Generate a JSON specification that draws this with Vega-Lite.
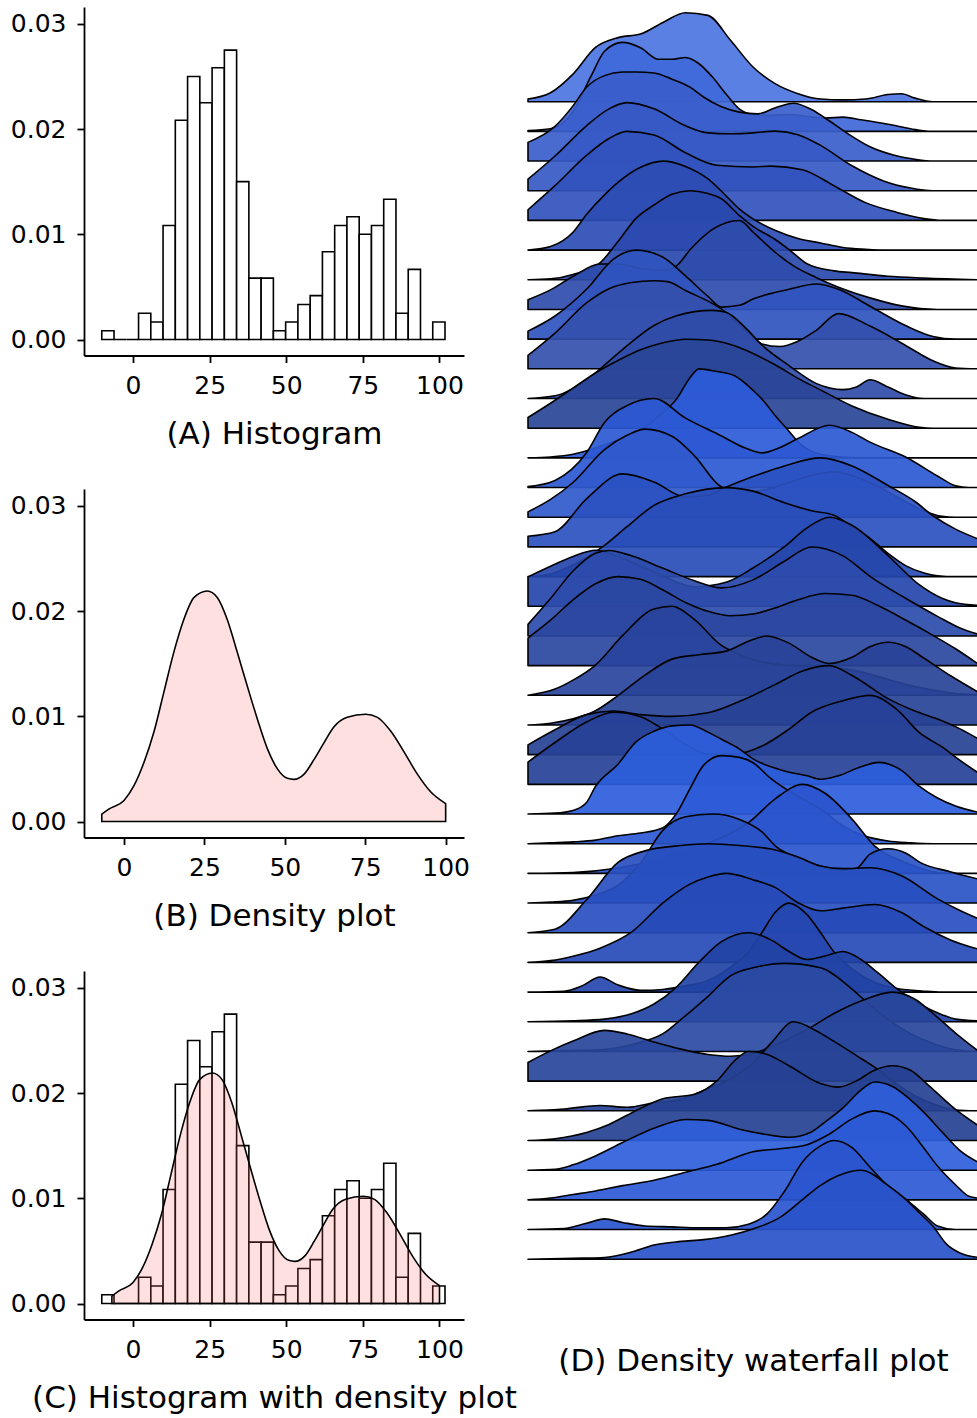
{
"$schema":"https://vega.github.io/schema/vega-lite/v6.json",
"background":"white",
"padding":{"left":10,"top":7,"right":0,"bottom":0},
"config":{"view":{"stroke":null},
 "axis":{"grid":false,"domainColor":"black","tickColor":"black","labelColor":"black","titleColor":"black","labelFont":"DejaVu Sans","titleFont":"DejaVu Sans","labelFontSize":25,"titleFontSize":31,"titleFontWeight":"normal","tickSize":7,"tickWidth":1.8,"domainWidth":1.8,"labelPadding":11,"labelFlush":false,"labelOverlap":false}},
"datasets":{
"hist":[
{"x0":-10.2,"x1":-6.2,"density":0.000833},{"x0":-6.2,"x1":-2.2,"density":0},{"x0":-2.2,"x1":1.8,"density":0},{"x0":1.8,"x1":5.8,"density":0.0025},{"x0":5.8,"x1":9.8,"density":0.001667},{"x0":9.8,"x1":13.8,"density":0.010833},{"x0":13.8,"x1":17.8,"density":0.020833},{"x0":17.8,"x1":21.8,"density":0.025},{"x0":21.8,"x1":25.8,"density":0.0225},{"x0":25.8,"x1":29.8,"density":0.025833},{"x0":29.8,"x1":33.8,"density":0.0275},{"x0":33.8,"x1":37.8,"density":0.015},{"x0":37.8,"x1":41.8,"density":0.005833},{"x0":41.8,"x1":45.8,"density":0.005833},{"x0":45.8,"x1":49.8,"density":0.000833},{"x0":49.8,"x1":53.8,"density":0.001667},{"x0":53.8,"x1":57.8,"density":0.003333},{"x0":57.8,"x1":61.8,"density":0.004167},{"x0":61.8,"x1":65.8,"density":0.008333},{"x0":65.8,"x1":69.8,"density":0.010833},{"x0":69.8,"x1":73.8,"density":0.011667},{"x0":73.8,"x1":77.8,"density":0.01},{"x0":77.8,"x1":81.8,"density":0.010833},{"x0":81.8,"x1":85.8,"density":0.013333},{"x0":85.8,"x1":89.8,"density":0.0025},{"x0":89.8,"x1":93.8,"density":0.006667},{"x0":93.8,"x1":97.8,"density":0},{"x0":97.8,"x1":101.8,"density":0.001667}],
"dens":[
{"x":-6.9,"density":0.0007},{"x":-4.6,"density":0.0012},{"x":0,"density":0.002},{"x":3.1,"density":0.0034},{"x":6.2,"density":0.0056},{"x":9.3,"density":0.0085},{"x":12.4,"density":0.0123},{"x":15.5,"density":0.0161},{"x":18.6,"density":0.0192},{"x":21.8,"density":0.0213},{"x":25.9,"density":0.0219},{"x":29,"density":0.0213},{"x":32.1,"density":0.0192},{"x":35.2,"density":0.0161},{"x":38.3,"density":0.0129},{"x":41.5,"density":0.0097},{"x":44.6,"density":0.0069},{"x":47.7,"density":0.005},{"x":50.8,"density":0.0041},{"x":52.8,"density":0.004},{"x":56,"density":0.0045},{"x":59.1,"density":0.0059},{"x":62.2,"density":0.0075},{"x":65.3,"density":0.009},{"x":69.4,"density":0.0099},{"x":75.1,"density":0.0102},{"x":78.8,"density":0.0099},{"x":82.9,"density":0.0086},{"x":87.1,"density":0.0066},{"x":91.2,"density":0.0045},{"x":95.4,"density":0.0028},{"x":100,"density":0.0017}],
"ridges":[
{"r":1,"u":0,"d":0.03},{"r":1,"u":5,"d":0.1},{"r":1,"u":10,"d":0.31},{"r":1,"u":15,"d":0.61},{"r":1,"u":20,"d":0.72},{"r":1,"u":25,"d":0.76},{"r":1,"u":30,"d":0.89},{"r":1,"u":35,"d":1},{"r":1,"u":40,"d":0.97},{"r":1,"u":45,"d":0.69},{"r":1,"u":50,"d":0.39},{"r":1,"u":55,"d":0.2},{"r":1,"u":60,"d":0.09},{"r":1,"u":65,"d":0.03},{"r":1,"u":70,"d":0.02},{"r":1,"u":75,"d":0.03},{"r":1,"u":80,"d":0.08},{"r":1,"u":83,"d":0.09},{"r":1,"u":86,"d":0.04},{"r":1,"u":90,"d":0},{"r":1,"u":100,"d":0},
{"r":2,"u":0,"d":0.01},{"r":2,"u":5,"d":0.03},{"r":2,"u":10,"d":0.22},{"r":2,"u":14,"d":0.62},{"r":2,"u":17,"d":0.9},{"r":2,"u":21,"d":1},{"r":2,"u":25,"d":0.94},{"r":2,"u":29,"d":0.81},{"r":2,"u":32,"d":0.81},{"r":2,"u":35,"d":0.83},{"r":2,"u":38,"d":0.76},{"r":2,"u":41,"d":0.61},{"r":2,"u":44,"d":0.42},{"r":2,"u":47,"d":0.25},{"r":2,"u":50,"d":0.19},{"r":2,"u":54,"d":0.18},{"r":2,"u":58,"d":0.19},{"r":2,"u":62,"d":0.17},{"r":2,"u":66,"d":0.15},{"r":2,"u":70,"d":0.16},{"r":2,"u":74,"d":0.13},{"r":2,"u":80,"d":0.08},{"r":2,"u":85,"d":0.03},{"r":2,"u":89,"d":0},{"r":2,"u":100,"d":0},
{"r":3,"u":0,"d":0.21},{"r":3,"u":6,"d":0.39},{"r":3,"u":10,"d":0.62},{"r":3,"u":13,"d":0.83},{"r":3,"u":17,"d":0.96},{"r":3,"u":21,"d":1},{"r":3,"u":24,"d":1},{"r":3,"u":28,"d":0.99},{"r":3,"u":32,"d":0.92},{"r":3,"u":36,"d":0.83},{"r":3,"u":39,"d":0.72},{"r":3,"u":43,"d":0.61},{"r":3,"u":47,"d":0.55},{"r":3,"u":51,"d":0.53},{"r":3,"u":55,"d":0.6},{"r":3,"u":59,"d":0.65},{"r":3,"u":63,"d":0.58},{"r":3,"u":67,"d":0.45},{"r":3,"u":71,"d":0.31},{"r":3,"u":76,"d":0.16},{"r":3,"u":81,"d":0.07},{"r":3,"u":86,"d":0.02},{"r":3,"u":90,"d":0},{"r":3,"u":100,"d":0},
{"r":4,"u":0,"d":0.13},{"r":4,"u":6,"d":0.39},{"r":4,"u":13,"d":0.73},{"r":4,"u":18,"d":0.92},{"r":4,"u":22,"d":0.99},{"r":4,"u":28,"d":0.92},{"r":4,"u":35,"d":0.73},{"r":4,"u":40,"d":0.65},{"r":4,"u":45,"d":0.64},{"r":4,"u":50,"d":0.65},{"r":4,"u":55,"d":0.67},{"r":4,"u":60,"d":0.63},{"r":4,"u":65,"d":0.51},{"r":4,"u":72,"d":0.28},{"r":4,"u":79,"d":0.11},{"r":4,"u":85,"d":0.03},{"r":4,"u":90,"d":0},{"r":4,"u":100,"d":0},
{"r":5,"u":0,"d":0.12},{"r":5,"u":6,"d":0.39},{"r":5,"u":13,"d":0.73},{"r":5,"u":18,"d":0.92},{"r":5,"u":22,"d":1},{"r":5,"u":28,"d":0.96},{"r":5,"u":35,"d":0.76},{"r":5,"u":42,"d":0.62},{"r":5,"u":50,"d":0.6},{"r":5,"u":54,"d":0.61},{"r":5,"u":61,"d":0.57},{"r":5,"u":68,"d":0.39},{"r":5,"u":75,"d":0.2},{"r":5,"u":82,"d":0.09},{"r":5,"u":88,"d":0.02},{"r":5,"u":92,"d":0},{"r":5,"u":100,"d":0},
{"r":6,"u":0,"d":0},{"r":6,"u":5,"d":0.04},{"r":6,"u":10,"d":0.2},{"r":6,"u":13,"d":0.4},{"r":6,"u":17,"d":0.62},{"r":6,"u":20,"d":0.76},{"r":6,"u":25,"d":0.93},{"r":6,"u":30,"d":1},{"r":6,"u":35,"d":0.94},{"r":6,"u":40,"d":0.8},{"r":6,"u":44,"d":0.61},{"r":6,"u":47,"d":0.46},{"r":6,"u":50,"d":0.35},{"r":6,"u":55,"d":0.22},{"r":6,"u":60,"d":0.13},{"r":6,"u":65,"d":0.08},{"r":6,"u":70,"d":0.03},{"r":6,"u":75,"d":0.01},{"r":6,"u":80,"d":0},{"r":6,"u":100,"d":0},
{"r":7,"u":0,"d":0},{"r":7,"u":5,"d":0.01},{"r":7,"u":10,"d":0.06},{"r":7,"u":16,"d":0.19},{"r":7,"u":20,"d":0.43},{"r":7,"u":24,"d":0.69},{"r":7,"u":28,"d":0.84},{"r":7,"u":32,"d":0.96},{"r":7,"u":36,"d":1},{"r":7,"u":40,"d":0.97},{"r":7,"u":43,"d":0.91},{"r":7,"u":47,"d":0.72},{"r":7,"u":50,"d":0.6},{"r":7,"u":55,"d":0.45},{"r":7,"u":58,"d":0.34},{"r":7,"u":62,"d":0.18},{"r":7,"u":68,"d":0.1},{"r":7,"u":72,"d":0.08},{"r":7,"u":80,"d":0.04},{"r":7,"u":88,"d":0.02},{"r":7,"u":100,"d":0},
{"r":8,"u":0,"d":0.11},{"r":8,"u":5,"d":0.22},{"r":8,"u":10,"d":0.37},{"r":8,"u":16,"d":0.51},{"r":8,"u":20,"d":0.51},{"r":8,"u":25,"d":0.46},{"r":8,"u":30,"d":0.44},{"r":8,"u":33,"d":0.49},{"r":8,"u":36,"d":0.67},{"r":8,"u":41,"d":0.9},{"r":8,"u":47,"d":1},{"r":8,"u":50,"d":0.87},{"r":8,"u":55,"d":0.64},{"r":8,"u":59,"d":0.49},{"r":8,"u":64,"d":0.36},{"r":8,"u":69,"d":0.25},{"r":8,"u":76,"d":0.13},{"r":8,"u":83,"d":0.04},{"r":8,"u":91,"d":0},{"r":8,"u":100,"d":0},
{"r":9,"u":0,"d":0.09},{"r":9,"u":6,"d":0.26},{"r":9,"u":13,"d":0.56},{"r":9,"u":19,"d":0.9},{"r":9,"u":24,"d":1},{"r":9,"u":30,"d":0.92},{"r":9,"u":35,"d":0.71},{"r":9,"u":40,"d":0.48},{"r":9,"u":43,"d":0.36},{"r":9,"u":47,"d":0.38},{"r":9,"u":50,"d":0.45},{"r":9,"u":58,"d":0.56},{"r":9,"u":64,"d":0.62},{"r":9,"u":69,"d":0.56},{"r":9,"u":76,"d":0.37},{"r":9,"u":84,"d":0.15},{"r":9,"u":90,"d":0.03},{"r":9,"u":95,"d":0},{"r":9,"u":100,"d":0},
{"r":10,"u":0,"d":0.15},{"r":10,"u":6,"d":0.4},{"r":10,"u":13,"d":0.74},{"r":10,"u":18,"d":0.9},{"r":10,"u":23,"d":0.97},{"r":10,"u":28,"d":0.99},{"r":10,"u":31,"d":0.98},{"r":10,"u":35,"d":0.88},{"r":10,"u":43,"d":0.67},{"r":10,"u":48,"d":0.45},{"r":10,"u":52,"d":0.28},{"r":10,"u":56,"d":0.25},{"r":10,"u":60,"d":0.31},{"r":10,"u":64,"d":0.43},{"r":10,"u":69,"d":0.62},{"r":10,"u":76,"d":0.48},{"r":10,"u":84,"d":0.26},{"r":10,"u":90,"d":0.09},{"r":10,"u":95,"d":0.01},{"r":10,"u":100,"d":0},
{"r":11,"u":0,"d":0},{"r":11,"u":6,"d":0.03},{"r":11,"u":13,"d":0.21},{"r":11,"u":21,"d":0.55},{"r":11,"u":28,"d":0.82},{"r":11,"u":33,"d":0.93},{"r":11,"u":41,"d":0.99},{"r":11,"u":44,"d":0.97},{"r":11,"u":48,"d":0.81},{"r":11,"u":52,"d":0.6},{"r":11,"u":58,"d":0.37},{"r":11,"u":64,"d":0.17},{"r":11,"u":70,"d":0.1},{"r":11,"u":73,"d":0.13},{"r":11,"u":76,"d":0.21},{"r":11,"u":80,"d":0.13},{"r":11,"u":84,"d":0.04},{"r":11,"u":88,"d":0},{"r":11,"u":100,"d":0},
{"r":12,"u":0,"d":0.12},{"r":12,"u":5,"d":0.28},{"r":12,"u":10,"d":0.45},{"r":12,"u":15,"d":0.62},{"r":12,"u":20,"d":0.76},{"r":12,"u":25,"d":0.88},{"r":12,"u":30,"d":0.96},{"r":12,"u":35,"d":1},{"r":12,"u":40,"d":0.99},{"r":12,"u":45,"d":0.94},{"r":12,"u":50,"d":0.84},{"r":12,"u":55,"d":0.71},{"r":12,"u":60,"d":0.56},{"r":12,"u":65,"d":0.43},{"r":12,"u":72,"d":0.25},{"r":12,"u":80,"d":0.1},{"r":12,"u":87,"d":0.01},{"r":12,"u":90,"d":0},{"r":12,"u":100,"d":0},
{"r":13,"u":0,"d":0},{"r":13,"u":5,"d":0.01},{"r":13,"u":10,"d":0.04},{"r":13,"u":15,"d":0.11},{"r":13,"u":20,"d":0.2},{"r":13,"u":25,"d":0.31},{"r":13,"u":30,"d":0.51},{"r":13,"u":33,"d":0.66},{"r":13,"u":36,"d":0.9},{"r":13,"u":38,"d":1},{"r":13,"u":42,"d":0.97},{"r":13,"u":46,"d":0.92},{"r":13,"u":50,"d":0.76},{"r":13,"u":52,"d":0.66},{"r":13,"u":55,"d":0.47},{"r":13,"u":58,"d":0.3},{"r":13,"u":60,"d":0.18},{"r":13,"u":65,"d":0.04},{"r":13,"u":70,"d":0.01},{"r":13,"u":75,"d":0},{"r":13,"u":100,"d":0},
{"r":14,"u":0,"d":0.01},{"r":14,"u":6,"d":0.08},{"r":14,"u":13,"d":0.39},{"r":14,"u":17,"d":0.73},{"r":14,"u":22,"d":0.92},{"r":14,"u":28,"d":1},{"r":14,"u":35,"d":0.78},{"r":14,"u":43,"d":0.58},{"r":14,"u":48,"d":0.45},{"r":14,"u":52,"d":0.39},{"r":14,"u":56,"d":0.45},{"r":14,"u":60,"d":0.55},{"r":14,"u":67,"d":0.7},{"r":14,"u":72,"d":0.62},{"r":14,"u":76,"d":0.51},{"r":14,"u":84,"d":0.34},{"r":14,"u":91,"d":0.13},{"r":14,"u":95,"d":0.02},{"r":14,"u":98,"d":0},{"r":14,"u":100,"d":0},
{"r":15,"u":0,"d":0.06},{"r":15,"u":5,"d":0.2},{"r":15,"u":10,"d":0.39},{"r":15,"u":17,"d":0.76},{"r":15,"u":22,"d":0.92},{"r":15,"u":26,"d":0.99},{"r":15,"u":32,"d":0.91},{"r":15,"u":37,"d":0.69},{"r":15,"u":43,"d":0.34},{"r":15,"u":48,"d":0.28},{"r":15,"u":53,"d":0.31},{"r":15,"u":58,"d":0.39},{"r":15,"u":63,"d":0.47},{"r":15,"u":68,"d":0.51},{"r":15,"u":73,"d":0.45},{"r":15,"u":78,"d":0.34},{"r":15,"u":83,"d":0.2},{"r":15,"u":88,"d":0.07},{"r":15,"u":92,"d":0.01},{"r":15,"u":95,"d":0},{"r":15,"u":100,"d":0},
{"r":16,"u":0,"d":0.12},{"r":16,"u":6,"d":0.17},{"r":16,"u":13,"d":0.54},{"r":16,"u":21,"d":0.82},{"r":16,"u":28,"d":0.73},{"r":16,"u":35,"d":0.56},{"r":16,"u":40,"d":0.58},{"r":16,"u":44,"d":0.67},{"r":16,"u":50,"d":0.79},{"r":16,"u":57,"d":0.91},{"r":16,"u":65,"d":1},{"r":16,"u":72,"d":0.91},{"r":16,"u":80,"d":0.69},{"r":16,"u":86,"d":0.51},{"r":16,"u":90,"d":0.35},{"r":16,"u":95,"d":0.2},{"r":16,"u":100,"d":0.09},
{"r":17,"u":0,"d":0},{"r":17,"u":5,"d":0.03},{"r":17,"u":10,"d":0.13},{"r":17,"u":17,"d":0.35},{"r":17,"u":22,"d":0.56},{"r":17,"u":28,"d":0.8},{"r":17,"u":35,"d":0.93},{"r":17,"u":44,"d":1},{"r":17,"u":50,"d":0.96},{"r":17,"u":57,"d":0.83},{"r":17,"u":63,"d":0.74},{"r":17,"u":68,"d":0.69},{"r":17,"u":72,"d":0.56},{"r":17,"u":76,"d":0.43},{"r":17,"u":80,"d":0.26},{"r":17,"u":84,"d":0.12},{"r":17,"u":88,"d":0.04},{"r":17,"u":91,"d":0.01},{"r":17,"u":95,"d":0},{"r":17,"u":100,"d":0},
{"r":18,"u":0,"d":0.33},{"r":18,"u":5,"d":0.45},{"r":18,"u":10,"d":0.56},{"r":18,"u":15,"d":0.63},{"r":18,"u":20,"d":0.56},{"r":18,"u":25,"d":0.45},{"r":18,"u":30,"d":0.34},{"r":18,"u":37,"d":0.22},{"r":18,"u":44,"d":0.27},{"r":18,"u":50,"d":0.43},{"r":18,"u":57,"d":0.67},{"r":18,"u":62,"d":0.88},{"r":18,"u":67,"d":1},{"r":18,"u":72,"d":0.91},{"r":18,"u":80,"d":0.57},{"r":18,"u":87,"d":0.24},{"r":18,"u":92,"d":0.09},{"r":18,"u":95,"d":0.04},{"r":18,"u":100,"d":0.01},
{"r":19,"u":0,"d":0.13},{"r":19,"u":5,"d":0.42},{"r":19,"u":10,"d":0.73},{"r":19,"u":15,"d":0.93},{"r":19,"u":18,"d":0.96},{"r":19,"u":23,"d":0.9},{"r":19,"u":30,"d":0.76},{"r":19,"u":37,"d":0.62},{"r":19,"u":43,"d":0.54},{"r":19,"u":50,"d":0.63},{"r":19,"u":57,"d":0.84},{"r":19,"u":63,"d":1},{"r":19,"u":70,"d":0.9},{"r":19,"u":76,"d":0.67},{"r":19,"u":84,"d":0.42},{"r":19,"u":91,"d":0.22},{"r":19,"u":96,"d":0.09},{"r":19,"u":100,"d":0.02},
{"r":20,"u":0,"d":0.31},{"r":20,"u":5,"d":0.51},{"r":20,"u":10,"d":0.74},{"r":20,"u":15,"d":0.92},{"r":20,"u":20,"d":1},{"r":20,"u":25,"d":0.97},{"r":20,"u":30,"d":0.85},{"r":20,"u":35,"d":0.71},{"r":20,"u":40,"d":0.61},{"r":20,"u":45,"d":0.56},{"r":20,"u":50,"d":0.58},{"r":20,"u":55,"d":0.65},{"r":20,"u":60,"d":0.74},{"r":20,"u":66,"d":0.81},{"r":20,"u":72,"d":0.79},{"r":20,"u":78,"d":0.67},{"r":20,"u":84,"d":0.51},{"r":20,"u":90,"d":0.34},{"r":20,"u":95,"d":0.19},{"r":20,"u":100,"d":0.02},
{"r":21,"u":0,"d":0},{"r":21,"u":6,"d":0.07},{"r":21,"u":10,"d":0.17},{"r":21,"u":15,"d":0.34},{"r":21,"u":21,"d":0.67},{"r":21,"u":28,"d":0.97},{"r":21,"u":32,"d":1},{"r":21,"u":37,"d":0.85},{"r":21,"u":43,"d":0.56},{"r":21,"u":46,"d":0.48},{"r":21,"u":50,"d":0.4},{"r":21,"u":55,"d":0.35},{"r":21,"u":60,"d":0.33},{"r":21,"u":65,"d":0.31},{"r":21,"u":70,"d":0.3},{"r":21,"u":75,"d":0.25},{"r":21,"u":80,"d":0.18},{"r":21,"u":85,"d":0.11},{"r":21,"u":90,"d":0.06},{"r":21,"u":95,"d":0.02},{"r":21,"u":100,"d":0.01},
{"r":22,"u":0,"d":0},{"r":22,"u":5,"d":0.02},{"r":22,"u":10,"d":0.07},{"r":22,"u":15,"d":0.16},{"r":22,"u":20,"d":0.33},{"r":22,"u":26,"d":0.56},{"r":22,"u":32,"d":0.74},{"r":22,"u":38,"d":0.79},{"r":22,"u":44,"d":0.83},{"r":22,"u":49,"d":0.94},{"r":22,"u":53,"d":1},{"r":22,"u":58,"d":0.92},{"r":22,"u":63,"d":0.76},{"r":22,"u":67,"d":0.69},{"r":22,"u":72,"d":0.76},{"r":22,"u":76,"d":0.88},{"r":22,"u":80,"d":0.93},{"r":22,"u":84,"d":0.88},{"r":22,"u":88,"d":0.75},{"r":22,"u":94,"d":0.55},{"r":22,"u":100,"d":0.37},
{"r":23,"u":0,"d":0.11},{"r":23,"u":6,"d":0.28},{"r":23,"u":13,"d":0.45},{"r":23,"u":19,"d":0.49},{"r":23,"u":25,"d":0.45},{"r":23,"u":32,"d":0.43},{"r":23,"u":40,"d":0.47},{"r":23,"u":48,"d":0.62},{"r":23,"u":55,"d":0.79},{"r":23,"u":61,"d":0.94},{"r":23,"u":67,"d":1},{"r":23,"u":72,"d":0.89},{"r":23,"u":80,"d":0.63},{"r":23,"u":86,"d":0.49},{"r":23,"u":91,"d":0.4},{"r":23,"u":96,"d":0.29},{"r":23,"u":100,"d":0.18},
{"r":24,"u":0,"d":0.25},{"r":24,"u":6,"d":0.47},{"r":24,"u":13,"d":0.7},{"r":24,"u":19,"d":0.81},{"r":24,"u":25,"d":0.76},{"r":24,"u":30,"d":0.62},{"r":24,"u":35,"d":0.45},{"r":24,"u":40,"d":0.34},{"r":24,"u":46,"d":0.34},{"r":24,"u":52,"d":0.43},{"r":24,"u":58,"d":0.62},{"r":24,"u":63,"d":0.81},{"r":24,"u":70,"d":0.94},{"r":24,"u":76,"d":1},{"r":24,"u":82,"d":0.84},{"r":24,"u":87,"d":0.58},{"r":24,"u":92,"d":0.42},{"r":24,"u":96,"d":0.27},{"r":24,"u":100,"d":0.13},
{"r":25,"u":0,"d":0},{"r":25,"u":6,"d":0.01},{"r":25,"u":10,"d":0.04},{"r":25,"u":13,"d":0.13},{"r":25,"u":15,"d":0.31},{"r":25,"u":20,"d":0.56},{"r":25,"u":24,"d":0.81},{"r":25,"u":28,"d":0.93},{"r":25,"u":32,"d":0.99},{"r":25,"u":36,"d":1},{"r":25,"u":40,"d":0.92},{"r":25,"u":43,"d":0.84},{"r":25,"u":47,"d":0.73},{"r":25,"u":50,"d":0.62},{"r":25,"u":54,"d":0.53},{"r":25,"u":58,"d":0.47},{"r":25,"u":62,"d":0.43},{"r":25,"u":65,"d":0.39},{"r":25,"u":69,"d":0.43},{"r":25,"u":74,"d":0.53},{"r":25,"u":78,"d":0.58},{"r":25,"u":83,"d":0.49},{"r":25,"u":87,"d":0.31},{"r":25,"u":91,"d":0.18},{"r":25,"u":95,"d":0.09},{"r":25,"u":100,"d":0.02},
{"r":26,"u":0,"d":0},{"r":26,"u":5,"d":0.01},{"r":26,"u":10,"d":0.02},{"r":26,"u":15,"d":0.04},{"r":26,"u":20,"d":0.09},{"r":26,"u":25,"d":0.12},{"r":26,"u":30,"d":0.18},{"r":26,"u":33,"d":0.34},{"r":26,"u":36,"d":0.62},{"r":26,"u":39,"d":0.88},{"r":26,"u":43,"d":0.99},{"r":26,"u":47,"d":0.97},{"r":26,"u":50,"d":0.91},{"r":26,"u":54,"d":0.73},{"r":26,"u":60,"d":0.53},{"r":26,"u":65,"d":0.39},{"r":26,"u":70,"d":0.2},{"r":26,"u":74,"d":0.1},{"r":26,"u":80,"d":0.03},{"r":26,"u":85,"d":0.01},{"r":26,"u":90,"d":0},{"r":26,"u":100,"d":0},
{"r":27,"u":0,"d":0},{"r":27,"u":10,"d":0.01},{"r":27,"u":20,"d":0.06},{"r":27,"u":30,"d":0.17},{"r":27,"u":40,"d":0.34},{"r":27,"u":45,"d":0.45},{"r":27,"u":49,"d":0.57},{"r":27,"u":55,"d":0.84},{"r":27,"u":61,"d":1},{"r":27,"u":66,"d":0.9},{"r":27,"u":72,"d":0.61},{"r":27,"u":77,"d":0.31},{"r":27,"u":84,"d":0.12},{"r":27,"u":91,"d":0.01},{"r":27,"u":95,"d":0},{"r":27,"u":100,"d":0},
{"r":28,"u":0,"d":0},{"r":28,"u":5,"d":0.01},{"r":28,"u":10,"d":0.03},{"r":28,"u":15,"d":0.09},{"r":28,"u":20,"d":0.2},{"r":28,"u":25,"d":0.45},{"r":28,"u":30,"d":0.82},{"r":28,"u":35,"d":0.97},{"r":28,"u":41,"d":1},{"r":28,"u":47,"d":0.94},{"r":28,"u":52,"d":0.8},{"r":28,"u":55,"d":0.64},{"r":28,"u":61,"d":0.49},{"r":28,"u":66,"d":0.4},{"r":28,"u":70,"d":0.37},{"r":28,"u":73,"d":0.39},{"r":28,"u":76,"d":0.55},{"r":28,"u":80,"d":0.61},{"r":28,"u":84,"d":0.56},{"r":28,"u":87,"d":0.46},{"r":28,"u":94,"d":0.35},{"r":28,"u":100,"d":0.27},
{"r":29,"u":0,"d":0},{"r":29,"u":6,"d":0.04},{"r":29,"u":13,"d":0.37},{"r":29,"u":20,"d":0.79},{"r":29,"u":26,"d":0.92},{"r":29,"u":34,"d":0.98},{"r":29,"u":40,"d":1},{"r":29,"u":47,"d":0.98},{"r":29,"u":54,"d":0.94},{"r":29,"u":60,"d":0.85},{"r":29,"u":65,"d":0.75},{"r":29,"u":70,"d":0.72},{"r":29,"u":76,"d":0.73},{"r":29,"u":83,"d":0.64},{"r":29,"u":91,"d":0.38},{"r":29,"u":96,"d":0.25},{"r":29,"u":100,"d":0.16},
{"r":30,"u":0,"d":0},{"r":30,"u":5,"d":0.02},{"r":30,"u":10,"d":0.07},{"r":30,"u":16,"d":0.16},{"r":30,"u":23,"d":0.34},{"r":30,"u":30,"d":0.67},{"r":30,"u":36,"d":0.88},{"r":30,"u":40,"d":0.96},{"r":30,"u":44,"d":1},{"r":30,"u":50,"d":0.93},{"r":30,"u":55,"d":0.84},{"r":30,"u":60,"d":0.67},{"r":30,"u":65,"d":0.58},{"r":30,"u":70,"d":0.61},{"r":30,"u":77,"d":0.65},{"r":30,"u":83,"d":0.56},{"r":30,"u":88,"d":0.4},{"r":30,"u":94,"d":0.25},{"r":30,"u":100,"d":0.15},
{"r":31,"u":0,"d":0},{"r":31,"u":8,"d":0.01},{"r":31,"u":12,"d":0.07},{"r":31,"u":16,"d":0.17},{"r":31,"u":20,"d":0.08},{"r":31,"u":25,"d":0.02},{"r":31,"u":30,"d":0.03},{"r":31,"u":35,"d":0.07},{"r":31,"u":40,"d":0.13},{"r":31,"u":45,"d":0.28},{"r":31,"u":49,"d":0.45},{"r":31,"u":52,"d":0.67},{"r":31,"u":55,"d":0.9},{"r":31,"u":58,"d":1},{"r":31,"u":62,"d":0.87},{"r":31,"u":65,"d":0.67},{"r":31,"u":68,"d":0.45},{"r":31,"u":72,"d":0.26},{"r":31,"u":77,"d":0.11},{"r":31,"u":82,"d":0.04},{"r":31,"u":88,"d":0.01},{"r":31,"u":92,"d":0},{"r":31,"u":100,"d":0},
{"r":32,"u":0,"d":0},{"r":32,"u":10,"d":0.01},{"r":32,"u":17,"d":0.03},{"r":32,"u":23,"d":0.09},{"r":32,"u":28,"d":0.2},{"r":32,"u":33,"d":0.39},{"r":32,"u":38,"d":0.67},{"r":32,"u":43,"d":0.9},{"r":32,"u":49,"d":1},{"r":32,"u":54,"d":0.92},{"r":32,"u":58,"d":0.79},{"r":32,"u":62,"d":0.7},{"r":32,"u":66,"d":0.74},{"r":32,"u":70,"d":0.79},{"r":32,"u":74,"d":0.7},{"r":32,"u":78,"d":0.54},{"r":32,"u":82,"d":0.37},{"r":32,"u":87,"d":0.2},{"r":32,"u":92,"d":0.08},{"r":32,"u":95,"d":0.03},{"r":32,"u":100,"d":0.01},
{"r":33,"u":0,"d":0},{"r":33,"u":8,"d":0.01},{"r":33,"u":16,"d":0.02},{"r":33,"u":24,"d":0.09},{"r":33,"u":30,"d":0.2},{"r":33,"u":34,"d":0.36},{"r":33,"u":40,"d":0.62},{"r":33,"u":45,"d":0.85},{"r":33,"u":50,"d":0.94},{"r":33,"u":57,"d":0.99},{"r":33,"u":65,"d":0.94},{"r":33,"u":72,"d":0.7},{"r":33,"u":76,"d":0.52},{"r":33,"u":80,"d":0.36},{"r":33,"u":85,"d":0.2},{"r":33,"u":90,"d":0.09},{"r":33,"u":95,"d":0.02},{"r":33,"u":100,"d":0},
{"r":34,"u":0,"d":0.21},{"r":34,"u":5,"d":0.34},{"r":34,"u":10,"d":0.45},{"r":34,"u":17,"d":0.57},{"r":34,"u":22,"d":0.53},{"r":34,"u":28,"d":0.44},{"r":34,"u":34,"d":0.36},{"r":34,"u":40,"d":0.3},{"r":34,"u":45,"d":0.28},{"r":34,"u":50,"d":0.31},{"r":34,"u":56,"d":0.43},{"r":34,"u":62,"d":0.58},{"r":34,"u":68,"d":0.76},{"r":34,"u":74,"d":0.9},{"r":34,"u":81,"d":1},{"r":34,"u":86,"d":0.92},{"r":34,"u":90,"d":0.76},{"r":34,"u":95,"d":0.54},{"r":34,"u":100,"d":0.34},
{"r":35,"u":0,"d":0},{"r":35,"u":8,"d":0.02},{"r":35,"u":16,"d":0.06},{"r":35,"u":22,"d":0.04},{"r":35,"u":28,"d":0.09},{"r":35,"u":34,"d":0.13},{"r":35,"u":40,"d":0.25},{"r":35,"u":45,"d":0.36},{"r":35,"u":50,"d":0.54},{"r":35,"u":54,"d":0.76},{"r":35,"u":59,"d":1},{"r":35,"u":64,"d":0.9},{"r":35,"u":68,"d":0.78},{"r":35,"u":73,"d":0.62},{"r":35,"u":77,"d":0.49},{"r":35,"u":82,"d":0.3},{"r":35,"u":86,"d":0.17},{"r":35,"u":91,"d":0.06},{"r":35,"u":95,"d":0.01},{"r":35,"u":100,"d":0},
{"r":36,"u":0,"d":0},{"r":36,"u":6,"d":0.02},{"r":36,"u":13,"d":0.09},{"r":36,"u":18,"d":0.18},{"r":36,"u":23,"d":0.31},{"r":36,"u":30,"d":0.47},{"r":36,"u":37,"d":0.52},{"r":36,"u":42,"d":0.67},{"r":36,"u":46,"d":0.9},{"r":36,"u":49,"d":1},{"r":36,"u":53,"d":0.97},{"r":36,"u":58,"d":0.84},{"r":36,"u":65,"d":0.64},{"r":36,"u":69,"d":0.6},{"r":36,"u":73,"d":0.67},{"r":36,"u":77,"d":0.79},{"r":36,"u":81,"d":0.84},{"r":36,"u":85,"d":0.79},{"r":36,"u":89,"d":0.62},{"r":36,"u":95,"d":0.35},{"r":36,"u":100,"d":0.17},
{"r":37,"u":0,"d":0},{"r":37,"u":6,"d":0.01},{"r":37,"u":10,"d":0.06},{"r":37,"u":15,"d":0.16},{"r":37,"u":21,"d":0.31},{"r":37,"u":28,"d":0.47},{"r":37,"u":35,"d":0.57},{"r":37,"u":40,"d":0.56},{"r":37,"u":47,"d":0.46},{"r":37,"u":53,"d":0.4},{"r":37,"u":58,"d":0.37},{"r":37,"u":63,"d":0.43},{"r":37,"u":66,"d":0.54},{"r":37,"u":70,"d":0.7},{"r":37,"u":74,"d":0.9},{"r":37,"u":77,"d":0.99},{"r":37,"u":81,"d":0.94},{"r":37,"u":85,"d":0.79},{"r":37,"u":88,"d":0.65},{"r":37,"u":92,"d":0.43},{"r":37,"u":96,"d":0.22},{"r":37,"u":100,"d":0.09},
{"r":38,"u":0,"d":0},{"r":38,"u":5,"d":0.02},{"r":38,"u":10,"d":0.06},{"r":38,"u":15,"d":0.1},{"r":38,"u":21,"d":0.16},{"r":38,"u":28,"d":0.22},{"r":38,"u":35,"d":0.31},{"r":38,"u":42,"d":0.4},{"r":38,"u":50,"d":0.54},{"r":38,"u":57,"d":0.58},{"r":38,"u":62,"d":0.62},{"r":38,"u":67,"d":0.74},{"r":38,"u":72,"d":0.91},{"r":38,"u":77,"d":1},{"r":38,"u":80,"d":0.97},{"r":38,"u":84,"d":0.83},{"r":38,"u":88,"d":0.58},{"r":38,"u":91,"d":0.38},{"r":38,"u":95,"d":0.17},{"r":38,"u":98,"d":0.04},{"r":38,"u":100,"d":0.02},
{"r":39,"u":0,"d":0},{"r":39,"u":8,"d":0.01},{"r":39,"u":13,"d":0.07},{"r":39,"u":17,"d":0.12},{"r":39,"u":21,"d":0.08},{"r":39,"u":26,"d":0.04},{"r":39,"u":32,"d":0.03},{"r":39,"u":38,"d":0.02},{"r":39,"u":44,"d":0.02},{"r":39,"u":49,"d":0.06},{"r":39,"u":53,"d":0.17},{"r":39,"u":57,"d":0.43},{"r":39,"u":61,"d":0.76},{"r":39,"u":65,"d":0.94},{"r":39,"u":68,"d":1},{"r":39,"u":72,"d":0.92},{"r":39,"u":76,"d":0.7},{"r":39,"u":80,"d":0.49},{"r":39,"u":84,"d":0.34},{"r":39,"u":88,"d":0.17},{"r":39,"u":91,"d":0.04},{"r":39,"u":95,"d":0},{"r":39,"u":100,"d":0},
{"r":40,"u":0,"d":0},{"r":40,"u":10,"d":0.01},{"r":40,"u":17,"d":0.02},{"r":40,"u":23,"d":0.08},{"r":40,"u":28,"d":0.16},{"r":40,"u":34,"d":0.2},{"r":40,"u":39,"d":0.22},{"r":40,"u":45,"d":0.27},{"r":40,"u":50,"d":0.34},{"r":40,"u":56,"d":0.47},{"r":40,"u":61,"d":0.67},{"r":40,"u":65,"d":0.83},{"r":40,"u":69,"d":0.94},{"r":40,"u":74,"d":1},{"r":40,"u":80,"d":0.83},{"r":40,"u":84,"d":0.67},{"r":40,"u":87,"d":0.52},{"r":40,"u":90,"d":0.37},{"r":40,"u":93,"d":0.17},{"r":40,"u":96,"d":0.07},{"r":40,"u":100,"d":0.02}
]},
"spacing":10,
"hconcat":[
{"vconcat":[
 {"width":380,"height":348.5,"data":{"name":"hist"},
  "mark":{"type":"rect","fill":"white","stroke":"black","strokeWidth":1.6},
  "encoding":{
   "x":{"field":"x0","type":"quantitative","scale":{"domain":[-16,108],"nice":false,"zero":false},"axis":{"values":[0,25,50,75,100],"title":"(A) Histogram","titlePadding":21}},
   "x2":{"field":"x1"},
   "y":{"field":"density","type":"quantitative","scale":{"domain":[-0.00152,0.0316],"nice":false,"zero":false},"axis":{"values":[0,0.01,0.02,0.03],"format":".2f","title":null}},
   "y2":{"datum":0}}},
 {"width":380,"height":348.5,"data":{"name":"dens"},
  "mark":{"type":"area","interpolate":"monotone","fill":"#FF6666","fillOpacity":0.2,"stroke":"black","strokeWidth":1.6},
  "encoding":{
   "x":{"field":"x","type":"quantitative","scale":{"domain":[-12.43,105.7],"nice":false,"zero":false},"axis":{"values":[0,25,50,75,100],"title":"(B) Density plot","titlePadding":21}},
   "y":{"field":"density","type":"quantitative","scale":{"domain":[-0.00152,0.0316],"nice":false,"zero":false},"axis":{"values":[0,0.01,0.02,0.03],"format":".2f","title":null}},
   "y2":{"datum":0}}},
 {"width":380,"height":348.5,
  "layer":[
   {"data":{"name":"hist"},
    "mark":{"type":"rect","fill":"white","stroke":"black","strokeWidth":1.6},
    "encoding":{
     "x":{"field":"x0","type":"quantitative","scale":{"domain":[-16,108],"nice":false,"zero":false},"axis":{"values":[0,25,50,75,100],"title":"(C) Histogram with density plot","titlePadding":21}},
     "x2":{"field":"x1"},
     "y":{"field":"density","type":"quantitative","scale":{"domain":[-0.00152,0.0316],"nice":false,"zero":false},"axis":{"values":[0,0.01,0.02,0.03],"format":".2f","title":null}},
     "y2":{"datum":0}}},
   {"data":{"name":"dens"},
    "mark":{"type":"area","interpolate":"monotone","fill":"#FF6666","fillOpacity":0.2,"stroke":"black","strokeWidth":1.6},
    "encoding":{
     "x":{"field":"x","type":"quantitative"},
     "y":{"field":"density","type":"quantitative"},
     "y2":{"datum":0}}}]}
],"spacing":133,"bounds":"flush"},
{"data":{"name":"ridges"},
 "facet":{"row":{"field":"r","type":"ordinal","title":null,"header":{"labels":false,"title":null}}},
 "spacing":0.68,
 "bounds":"flush",
 "spec":{"width":450,"height":29,
  "mark":{"type":"area","interpolate":"monotone","stroke":"black","strokeWidth":1.6,"fillOpacity":0.92,"strokeJoin":"round"},
  "encoding":{
   "x":{"field":"u","type":"quantitative","scale":{"domain":[0,100],"nice":false,"zero":false},"axis":{"labels":false,"ticks":false,"domain":false,"grid":false,"title":"(D) Density waterfall plot","titlePadding":152}},
   "y":{"field":"d","type":"quantitative","scale":{"domain":[0,1],"range":[94.7,5.7],"nice":false},"axis":null},
   "y2":{"datum":0},
   "fill":{"field":"r","type":"nominal","legend":null,"scale":{"domain":[1,2,3,4,5,6,7,8,9,10,11,12,13,14,15,16,17,18,19,20,21,22,23,24,25,26,27,28,29,30,31,32,33,34,35,36,37,38,39,40],"range":["#4d75e2","#3f68d9","#3a5ecc","#3659c4","#3253bd","#2c4db4","#2a49ae","#2f4cab","#3054bf","#3350ad","#2f4ca8","#2a4598","#2c5bd9","#2b58d2","#3059cc","#2b51c1","#294db8","#2547ab","#2d4cab","#2a47a0","#29449c","#284397","#274295","#264197","#2d5ddb","#2c5ad6","#2a55cd","#2952c6","#284fbf","#264bb7","#2547af","#2143a5","#2a4aa3","#28459b","#274396","#264193","#2e5eda","#2c5ad5","#2a55ce","#2953c9"]}}}}}
]}
